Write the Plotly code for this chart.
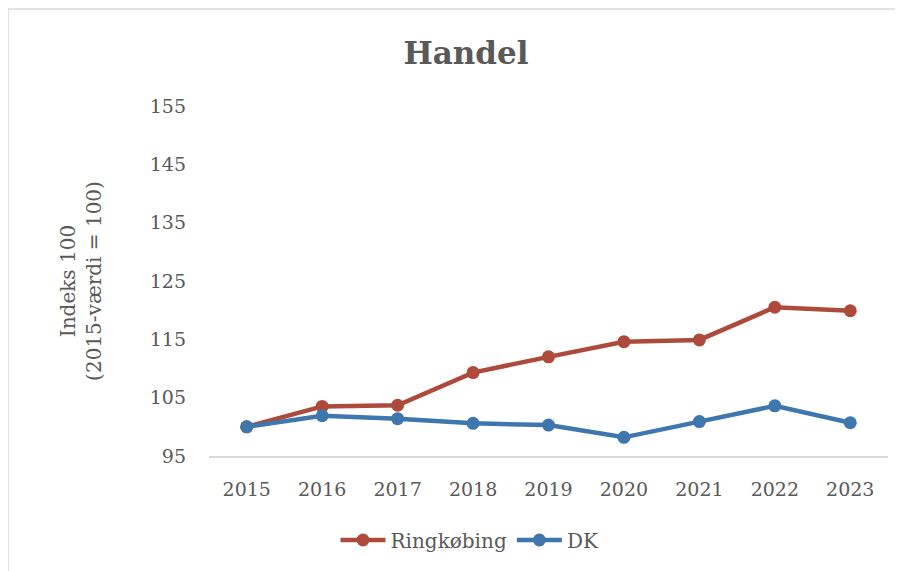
import plotly.graph_objects as go

years = ["2015", "2016", "2017", "2018", "2019", "2020", "2021", "2022", "2023"]
ringkobing = [100.0, 103.5, 103.7, 109.3, 112.0, 114.6, 114.9, 120.5, 119.9]
dk = [100.0, 101.9, 101.4, 100.6, 100.3, 98.2, 100.9, 103.6, 100.7]
y_ticks = [95, 105, 115, 125, 135, 145, 155]

FONT = "DejaVu Serif"
TEXT = "#595959"
RED = "#AE4A3C"
BLUE = "#3E77AD"

# page body has an 8px margin, so figure coords = screen coords - 8
PLOT_L, PLOT_R, PLOT_T, PLOT_B = 201, 880, 98, 448
PW, PH = PLOT_R - PLOT_L, PLOT_B - PLOT_T

fig = go.Figure()
for name, vals, color in [("Ringkøbing", ringkobing, RED), ("DK", dk, BLUE)]:
    fig.add_trace(
        go.Scatter(
            x=years,
            y=vals,
            name=name,
            mode="lines+markers",
            line=dict(color=color, width=4.5),
            marker=dict(color=color, size=13),
        )
    )

fig.update_layout(
    width=903,
    height=571,
    paper_bgcolor="white",
    plot_bgcolor="white",
    font=dict(family=FONT, color=TEXT, size=19),
    margin=dict(l=PLOT_L, r=903 - PLOT_R, t=PLOT_T, b=571 - PLOT_B),
    title=dict(
        text="<b>Handel</b>",
        x=458 / 903,
        xanchor="center",
        y=1 - 45 / 571,
        yanchor="middle",
        font=dict(family=FONT, size=31, color=TEXT),
    ),
    showlegend=True,
    legend=dict(
        orientation="h",
        x=(462 - PLOT_L) / PW,
        xanchor="center",
        y=(PLOT_B - 532) / PH,
        yanchor="middle",
        font=dict(size=20, color=TEXT),
        itemwidth=45,
    ),
    xaxis=dict(
        type="category",
        range=[-0.5, 8.5],
        showgrid=False,
        showline=True,
        linecolor="#d9d9d9",
        linewidth=1.5,
        ticks="",
        ticklabelstandoff=15,
        zeroline=False,
    ),
    yaxis=dict(
        range=[95, 155],
        tickvals=y_ticks,
        showgrid=False,
        showline=False,
        zeroline=False,
        ticks="",
        ticklabelstandoff=22,
        title=dict(
            text="Indeks 100<br>(2015-værdi = 100)",
            font=dict(size=20, color=TEXT),
            standoff=42,
        ),
    ),
    shapes=[
        dict(
            type="rect",
            xref="paper",
            yref="paper",
            x0=(0 - PLOT_L) / PW,
            x1=(893 - PLOT_L) / PW,
            y0=(PLOT_B - 566) / PH,
            y1=(PLOT_B - 1) / PH,
            line=dict(color="#d9d9d9", width=1.5),
            fillcolor="rgba(0,0,0,0)",
            layer="below",
        )
    ],
)

fig.write_html("out.html")
